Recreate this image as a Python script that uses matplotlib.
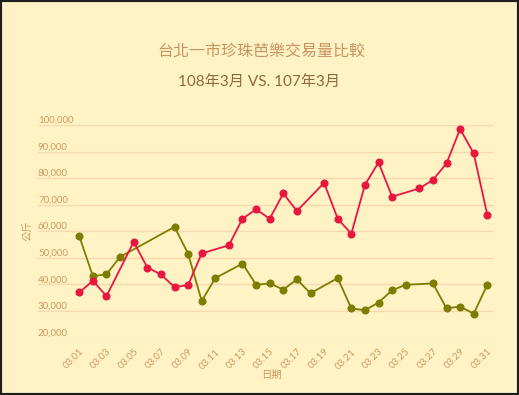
import numpy as np
import matplotlib
matplotlib.use("Agg")
from matplotlib import pyplot as plt
from matplotlib.patches import Rectangle

plt.rcParams['font.family'] = ['Lato', 'Noto Sans CJK TC', 'DejaVu Sans']

# Day of March, 1..31 (None = no trading data that day)
DAYS = list(range(1, 32))

# 108年3月 (red)
VOL_108 = [36900, 41300, 35500, None, 56000, 46300, 43700, 38900, 39700, 51600,
           None, 54700, 64700, 68200, 64700, 74200, 67600, None, 78200, 64700,
           59000, 77400, 85900, 73000, None, 76100, 79300, 85500, 98500, 89300,
           66200]

# 107年3月 (olive)
VOL_107 = [58100, 43000, 43800, 50300, None, None, None, 61600, 51500, 33700,
           42300, None, 47800, 39800, 40300, 38000, 41800, 36600, None, 42300,
           30900, 30200, 33100, 37700, 39800, None, 40300, 30900, 31600, 28900,
           39800]

TICK_DAYS = DAYS[::2]
TICK_LABELS = [f"03.{d:02d}" for d in TICK_DAYS]
Y_TICKS = [20000, 30000, 40000, 50000, 60000, 70000, 80000, 90000, 100000]

TITLE = "台北一市珍珠芭樂交易量比較"
SUBTITLE = "108年3月 VS. 107年3月"

BG = "#FFF3C6"
RED = "#E8173F"
OLIVE = "#7D7D00"
GRID = "#F8D9AE"
TICK_COLOR = "#CF9860"


def drop_missing(days, vals):
    pts = [(d, v) for d, v in zip(days, vals) if v is not None]
    return [p[0] for p in pts], [p[1] for p in pts]


W, H = 519, 395
fig = plt.figure(figsize=(W / 100, H / 100), dpi=100, facecolor=BG)

# axes placed in pixel terms: gridlines span x 38..494, y(20k)=337, y(100k)=125
left, right, top, bottom = 38, 494, 125, 337.3
ax = fig.add_axes([left / W, (H - bottom) / H, (right - left) / W, (bottom - top) / H])
ax.set_facecolor(BG)

day0_px, step_px = 79.3, 13.6
ax.set_xlim(1 - (day0_px - left) / step_px, 31 + (right - day0_px - 30 * step_px) / step_px)
ax.set_ylim(20000, 100000)

for vals, col in [(VOL_107, OLIVE), (VOL_108, RED)]:
    x, y = drop_missing(DAYS, vals)
    ax.plot(x, y, color=col, lw=1.3, marker='o', markersize=4.8,
            markeredgecolor=col, clip_on=False, zorder=3)

ax.set_yticks(Y_TICKS)
ax.set_yticklabels([f"{v:,}" for v in Y_TICKS])
ax.grid(axis='y', color=GRID, lw=1)
ax.tick_params(axis='y', length=0, pad=0, labelsize=7, labelcolor=TICK_COLOR)
for lab in ax.get_yticklabels():
    lab.set_ha('left')
    lab.set_va('bottom')

ax.set_xticks(TICK_DAYS)
ax.set_xticklabels(TICK_LABELS, rotation=45, ha='right', va='top', rotation_mode='anchor')
ax.tick_params(axis='x', length=0, pad=7, labelsize=7, labelcolor=TICK_COLOR)

for s in ax.spines.values():
    s.set_visible(False)
ax.set_axisbelow(True)

fig.text(261 / W, 1 - 52 / H, TITLE, ha='center', va='center', fontsize=11.5, color="#C99462")
fig.text(259 / W, 1 - 82 / H, SUBTITLE, ha='center', va='center', fontsize=11, color="#8C6A3C")
fig.text(272 / W, 1 - 375 / H, "日期", ha='center', va='center', fontsize=7.5, color=TICK_COLOR)
fig.text(28 / W, 1 - 231 / H, "公斤", ha='center', va='center', fontsize=7.5, rotation=90,
         color=TICK_COLOR)

# dark frame around the screenshot
fig.patches.append(Rectangle((0, 0), 1, 1, transform=fig.transFigure, fill=False,
                             edgecolor="#1e1e1e", lw=3))

fig.savefig("out.png", dpi=100, facecolor=BG)
